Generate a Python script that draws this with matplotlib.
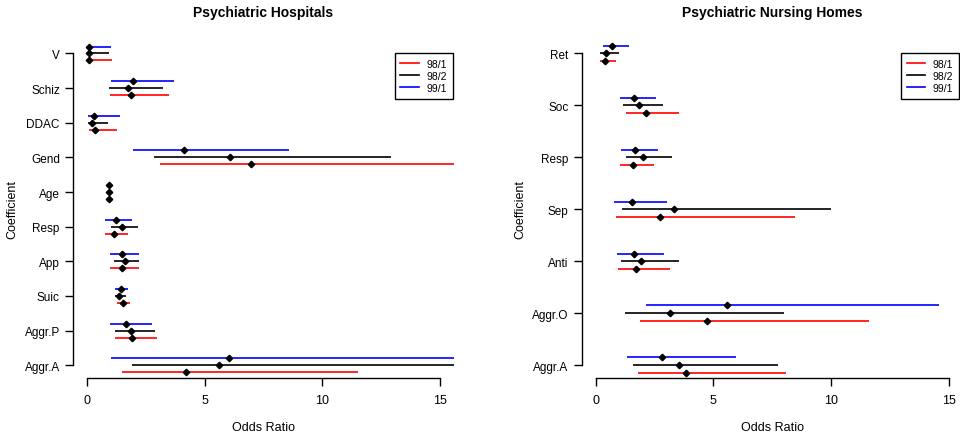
import numpy as np
import matplotlib
matplotlib.use("Agg")
import matplotlib.pyplot as plt
from matplotlib.lines import Line2D

plt.rcParams['font.family'] = ['Liberation Sans', 'DejaVu Sans']

# ---- Psychiatric Hospitals (top to bottom) ----
hosp_coef = ['V', 'Schiz', 'DDAC', 'Gend', 'Age', 'Resp', 'App', 'Suic', 'Aggr.P', 'Aggr.A']
hosp_981_est = [0.09, 1.86, 0.33, 6.98, 0.95, 1.16, 1.48, 1.53, 1.90, 4.19]
hosp_981_lo  = [0.06, 0.98, 0.06, 3.11, 0.93, 0.78, 0.98, 1.28, 1.19, 1.50]
hosp_981_hi  = [1.05, 3.49, 1.26, 17.5, 0.98, 1.73, 2.19, 1.84, 2.97, 11.51]
hosp_982_est = [0.08, 1.73, 0.21, 6.09, 0.95, 1.49, 1.59, 1.36, 1.86, 5.61]
hosp_982_lo  = [0.05, 0.92, 0.04, 2.85, 0.93, 1.01, 1.16, 1.18, 1.18, 1.90]
hosp_982_hi  = [0.94, 3.24, 0.88, 12.90, 0.98, 2.17, 2.20, 1.65, 2.89, 16.8]
hosp_991_est = [0.09, 1.94, 0.31, 4.10, 0.95, 1.22, 1.48, 1.43, 1.66, 6.05]
hosp_991_lo  = [0.06, 1.01, 0.04, 1.94, 0.93, 0.78, 0.99, 1.19, 0.99, 1.01]
hosp_991_hi  = [1.02, 3.69, 1.38, 8.57, 0.98, 1.90, 2.19, 1.72, 2.77, 18.9]

# ---- Psychiatric Nursing Homes (top to bottom) ----
nurs_coef = ['Ret', 'Soc', 'Resp', 'Sep', 'Anti', 'Aggr.O', 'Aggr.A']
nurs_981_est = [0.38, 2.12, 1.58, 2.72, 1.71, 4.71, 3.83]
nurs_981_lo  = [0.16, 1.27, 1.02, 0.85, 0.95, 1.90, 1.80]
nurs_981_hi  = [0.86, 3.52, 2.46, 8.48, 3.14, 11.63, 8.09]
nurs_982_est = [0.44, 1.83, 2.02, 3.34, 1.92, 3.17, 3.52]
nurs_982_lo  = [0.18, 1.15, 1.27, 1.12, 1.05, 1.25, 1.60]
nurs_982_hi  = [1.00, 2.86, 3.24, 9.98, 3.54, 8.01, 7.73]
nurs_991_est = [0.67, 1.63, 1.68, 1.54, 1.61, 5.58, 2.83]
nurs_991_lo  = [0.30, 1.03, 1.09, 0.78, 0.89, 2.12, 1.34]
nurs_991_hi  = [1.42, 2.55, 2.65, 3.04, 2.89, 14.58, 5.94]

periods = ['98/1', '98/2', '99/1']
colors = ['#FF0000', 'black', '#0000FF']

fig = plt.figure(figsize=(9.6, 4.39), dpi=100)
W, H = 960.0, 439.0


def panel(left_px, coef, series, off, title, legend_right_px):
    ax = fig.add_axes([left_px / W, (H - 378.7) / H, 381.0 / W, (378.7 - 42.0) / H])
    n = len(coef)
    base = np.arange(n)[::-1]
    shifts = [-off, 0.0, off]  # red below, black middle, blue above
    for (est, lo, hi), col, sh in zip(series, colors, shifts):
        y = base + sh
        ax.hlines(y, lo, hi, color=col, lw=1.2)
        ax.plot(est, y, 'D', color='black', ms=3.3, mec='black', ls='none', zorder=3)
    ax.set_xlim(-0.6, 15.6)
    ax.set_ylim(-0.04 * (n - 1), 1.04 * (n - 1))
    ax.set_yticks(base)
    ax.set_yticklabels(coef)
    ax.set_xticks([0, 5, 10, 15])
    for s in ['top', 'right']:
        ax.spines[s].set_visible(False)
    ax.spines['left'].set_bounds(0, n - 1)
    ax.spines['bottom'].set_bounds(0, 15)
    ax.spines['left'].set_linewidth(1.0)
    ax.spines['bottom'].set_linewidth(1.0)
    ax.tick_params(axis='y', direction='out', length=5.5, width=1.0, pad=4, labelsize=8.5)
    ax.tick_params(axis='x', direction='out', length=5.5, width=1.0, pad=6, labelsize=9)

    cx = (left_px + 190.5) / W
    fig.text(cx, 1 - 13 / H, title, ha='center', va='center', fontsize=10, fontweight='bold')
    fig.text(cx, 1 - 428 / H, 'Odds Ratio', ha='center', va='center', fontsize=9)
    fig.text((left_px - 61) / W, 1 - 210 / H, 'Coefficient', ha='center', va='center',
             rotation=90, fontsize=9)

    handles = [Line2D([], [], color=c, lw=1.2) for c in colors]
    leg = fig.legend(handles, periods, loc='upper right',
                     bbox_to_anchor=(legend_right_px / W, 1 - 54 / H),
                     fontsize=7.5, frameon=True, fancybox=False, framealpha=1,
                     edgecolor='black', handlelength=1.8, handletextpad=0.7,
                     labelspacing=0.2, borderpad=0.55, borderaxespad=0)
    leg.get_frame().set_linewidth(1.0)
    return ax


panel(73.0, hosp_coef,
      [(hosp_981_est, hosp_981_lo, hosp_981_hi),
       (hosp_982_est, hosp_982_lo, hosp_982_hi),
       (hosp_991_est, hosp_991_lo, hosp_991_hi)],
      0.2, 'Psychiatric Hospitals', 452.5)

panel(581.7, nurs_coef,
      [(nurs_981_est, nurs_981_lo, nurs_981_hi),
       (nurs_982_est, nurs_982_lo, nurs_982_hi),
       (nurs_991_est, nurs_991_lo, nurs_991_hi)],
      0.15, 'Psychiatric Nursing Homes', 959.0)

fig.savefig('out.png', dpi=100)
